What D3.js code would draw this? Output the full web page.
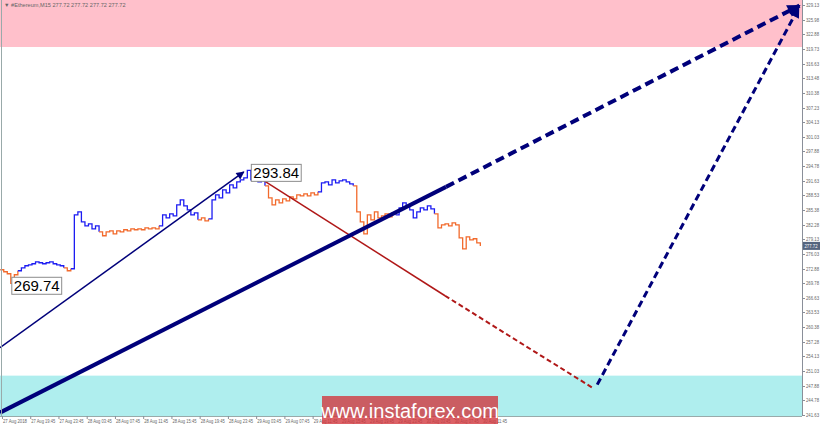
<!DOCTYPE html>
<html><head><meta charset="utf-8">
<script src="https://cdn.jsdelivr.net/npm/d3@7"></script>
<style>html,body{margin:0;padding:0;background:#fff;overflow:hidden}svg{display:block}</style>
</head><body>
<svg id="chart" width="820" height="426"></svg>
<script>
// ---- data ----
const title = "▼ #Ethereum,M15  277.72 277.72 277.72 277.72";
const startHour = 15.5;   // hours since 27 Aug 00:00
const stepHour = 0.5;
const closes = [
272.63,272.20,271.77,269.74,271.56,272.41,273.05,273.48,273.69,273.91,
274.33,274.12,273.91,274.12,274.33,273.91,273.69,273.48,273.05,272.41,
272.84,284.35,284.99,282.86,282.01,282.43,281.37,282.01,280.73,279.88,
280.73,280.94,280.30,280.94,280.73,281.16,280.94,281.37,281.16,281.37,
281.16,281.58,281.37,281.58,281.37,282.01,284.35,283.71,284.57,284.14,
286.49,287.55,286.27,285.42,284.35,284.78,283.29,283.71,283.07,283.50,
287.55,288.62,287.98,289.68,289.04,290.75,290.11,291.39,291.82,292.24,
293.84,291.82,292.67,291.39,292.24,290.54,287.98,286.49,287.55,286.91,
287.77,287.34,288.19,287.77,288.62,288.41,288.83,288.41,289.04,288.62,
289.26,291.18,291.39,290.75,291.82,291.18,291.60,291.82,291.39,290.96,
290.54,284.99,282.86,280.30,284.35,283.29,284.99,283.71,284.14,284.57,
283.92,284.78,284.35,285.85,286.91,286.27,285.42,283.71,284.99,285.85,
285.42,286.27,285.63,284.57,281.58,282.22,282.43,282.01,282.65,282.22,
279.45,277.10,279.66,279.02,279.24,278.38,277.72
];
// colour runs: [fromIndex, toIndex, direction]
const runs = [[0,5,"dn"],[5,18,"up"],[18,20,"dn"],[20,28,"up"],[28,45,"dn"],[45,56,"up"],[56,59,"dn"],
  [59,75,"up"],[75,90,"dn"],[90,100,"up"],[100,112,"dn"],[112,123,"up"],[123,136,"dn"]];
const priceTicks = [329.13,325.98,322.88,319.73,316.63,313.48,310.38,307.23,304.13,301.03,297.88,294.78,
  291.63,288.53,285.38,282.28,279.13,276.03,272.88,269.78,266.63,263.53,260.38,257.28,254.13,251.03,
  247.88,244.78,241.63];
const timeTickHours = [15.75,19.75,23.75,27.75,31.75,35.75,39.75,43.75,47.75,51.75,55.75,59.75,63.75,67.75,71.75,75.75,79.75,83.75];
const timeTickLabels = ["27 Aug 2018","27 Aug 19:45","27 Aug 23:45","28 Aug 03:45","28 Aug 07:45","28 Aug 11:45",
  "28 Aug 15:45","28 Aug 19:45","28 Aug 23:45","29 Aug 03:45","29 Aug 07:45","29 Aug 11:45","29 Aug 15:45",
  "29 Aug 19:45","29 Aug 23:45","30 Aug 03:45","30 Aug 07:45","30 Aug 11:45"];
const lastPrice = 277.72;
const pinkZone = [320.17, 331];
const cyanZone = [239, 250.03];
const highMark = {h: 50.5, v: 293.84, label: "293.84"};
const lowMark = {h: 17.0, v: 269.74, label: "269.74"};
const waveThin = [[15.47,256.0],[50.0,293.5]];
const waveBigSolid = [[15.47,242.14],[78.64,290.32]];
const waveBigDash = [[78.64,290.32],[128.7,329.0]];
const waveRedSolid = [[52.0,292.46],[78.5,267.08]];
const waveRedDash = [[78.5,267.08],[99.35,247.47]];
const waveNavyDash = [[100.06,248.11],[128.6,328.6]];
const watermark = "www.instaforex.com";

// ---- layout ----
const W = 820, H = 426, plotR = 802, plotB = 416;
const svg = d3.select("#chart");
const x = d3.scaleLinear().domain([15.47, 129.06]).range([0, plotR]);
const y = d3.scaleLinear().domain([241.63, 329.13]).range([415, 5]);

svg.append("defs").append("clipPath").attr("id","clip")
  .append("rect").attr("x",0).attr("y",0).attr("width",plotR).attr("height",plotB);
const defs = svg.select("defs");
function marker(id, w, h, color){
  defs.append("marker").attr("id",id).attr("markerUnits","userSpaceOnUse")
    .attr("viewBox","0 0 10 10").attr("refX",9).attr("refY",5)
    .attr("markerWidth",w).attr("markerHeight",h).attr("orient","auto")
    .append("path").attr("d","M0,0 L10,5 L0,10 z").attr("fill",color);
}
marker("arrSmall", 11, 8, "#00007a");
marker("arrBig", 16, 13, "#00007a");
marker("arrMid", 14, 11, "#00007a");

const plot = svg.append("g").attr("clip-path","url(#clip)");
// zones
plot.append("rect").attr("x",0).attr("width",plotR)
  .attr("y",y(pinkZone[1])).attr("height",y(pinkZone[0])-y(pinkZone[1])).attr("fill","#ffc0cb");
plot.append("rect").attr("x",0).attr("width",plotR)
  .attr("y",y(cyanZone[1])).attr("height",y(cyanZone[0])-y(cyanZone[1])).attr("fill","#afeeee");

// frame
svg.append("line").attr("x1",1.5).attr("x2",1.5).attr("y1",0).attr("y2",plotB).attr("stroke","#9aa").attr("stroke-width",1);
svg.append("line").attr("x1",0).attr("x2",plotR).attr("y1",plotB+0.5).attr("y2",plotB+0.5).attr("stroke","#9aa");
svg.append("line").attr("x1",plotR+0.5).attr("x2",plotR+0.5).attr("y1",0).attr("y2",plotB).attr("stroke","#8a8f99");

// price series
const pts = closes.map((v,i)=>[startHour+i*stepHour, v]);
const line = d3.line().x(d=>x(d[0])).y(d=>y(d[1])).curve(d3.curveStepAfter);
runs.forEach(r=>{
  plot.append("path").datum(pts.slice(r[0], r[1]+1)).attr("d", line)
    .attr("fill","none").attr("stroke", r[2]==="up" ? "#1c1cf2" : "#f26a2c").attr("stroke-width",1.3);
});

// wave lines
const sl = d3.line().x(d=>x(d[0])).y(d=>y(d[1]));
plot.append("path").datum(waveThin).attr("d",sl).attr("stroke","#00007a").attr("stroke-width",1.5).attr("fill","none").attr("marker-end","url(#arrSmall)");
plot.append("path").datum(waveRedSolid).attr("d",sl).attr("stroke","#b01818").attr("stroke-width",1.5).attr("fill","none");
plot.append("path").datum(waveRedDash).attr("d",sl).attr("stroke","#b01818").attr("stroke-width",2).attr("stroke-dasharray","5,3").attr("fill","none");
plot.append("path").datum(waveBigSolid).attr("d",sl).attr("stroke","#00007a").attr("stroke-width",4).attr("fill","none");
plot.append("path").datum(waveBigDash).attr("d",sl).attr("stroke","#00007a").attr("stroke-width",4).attr("stroke-dasharray","9,5").attr("fill","none").attr("marker-end","url(#arrBig)");
plot.append("path").datum(waveNavyDash).attr("d",sl).attr("stroke","#00007a").attr("stroke-width",3).attr("stroke-dasharray","7,4").attr("fill","none").attr("marker-end","url(#arrMid)");

// labels on extremes
function markLabel(m, dx, dy){
  const g = svg.append("g");
  const t = g.append("text").attr("x", x(m.h)+dx+3).attr("y", y(m.v)+dy+13)
    .attr("font-family","Liberation Sans, Arial, sans-serif").attr("font-size",15).attr("fill","#000").text(m.label);
  const bb = t.node().getBBox();
  g.insert("rect","text").attr("x",bb.x-2).attr("y",bb.y).attr("width",bb.width+4).attr("height",bb.height)
    .attr("fill","#fff").attr("stroke","#8c8c8c").attr("stroke-width",1);
}
markLabel(highMark, 3, -5);
markLabel(lowMark, 0, -5);

// right axis
const ra = svg.append("g").attr("font-family","Liberation Sans, Arial, sans-serif").attr("font-size",5.5).attr("fill","#666");
priceTicks.forEach(v=>{
  ra.append("line").attr("x1",plotR).attr("x2",plotR+3).attr("y1",Math.round(y(v))+0.5).attr("y2",Math.round(y(v))+0.5).attr("stroke","#8a8f99");
  ra.append("text").attr("x",plotR+4).attr("y",y(v)+2).attr("textLength",13).attr("lengthAdjust","spacingAndGlyphs").text(v.toFixed(2));
});
ra.append("rect").attr("x",plotR+1).attr("y",y(lastPrice)-4).attr("width",17).attr("height",8).attr("fill","#55657f");
ra.append("text").attr("x",plotR+2.5).attr("y",y(lastPrice)+2).attr("fill","#fff").attr("textLength",13).attr("lengthAdjust","spacingAndGlyphs").text(lastPrice.toFixed(2));

// bottom axis
const ba = svg.append("g").attr("font-family","Liberation Sans, Arial, sans-serif").attr("font-size",5.2).attr("fill","#666");
timeTickHours.forEach((h,i)=>{
  ba.append("line").attr("x1",x(h)+0.5).attr("x2",x(h)+0.5).attr("y1",plotB).attr("y2",plotB+3).attr("stroke","#8a8f99");
  ba.append("text").attr("x",x(h)+1).attr("y",plotB+7).attr("textLength",24).attr("lengthAdjust","spacingAndGlyphs").text(timeTickLabels[i]);
});

// title
svg.append("text").attr("x",4).attr("y",7).attr("font-family","Liberation Sans, Arial, sans-serif")
  .attr("font-size",5.6).attr("fill","#666").text(title);

// watermark
svg.append("rect").attr("x",322).attr("y",396).attr("width",176).attr("height",28).attr("fill","#d2353b").attr("opacity",0.78);
svg.append("text").attr("x",410).attr("y",418).attr("text-anchor","middle").attr("font-family","Liberation Sans, Arial, sans-serif")
  .attr("font-size",20).attr("fill","#fff").text(watermark);
</script>
</body></html>
